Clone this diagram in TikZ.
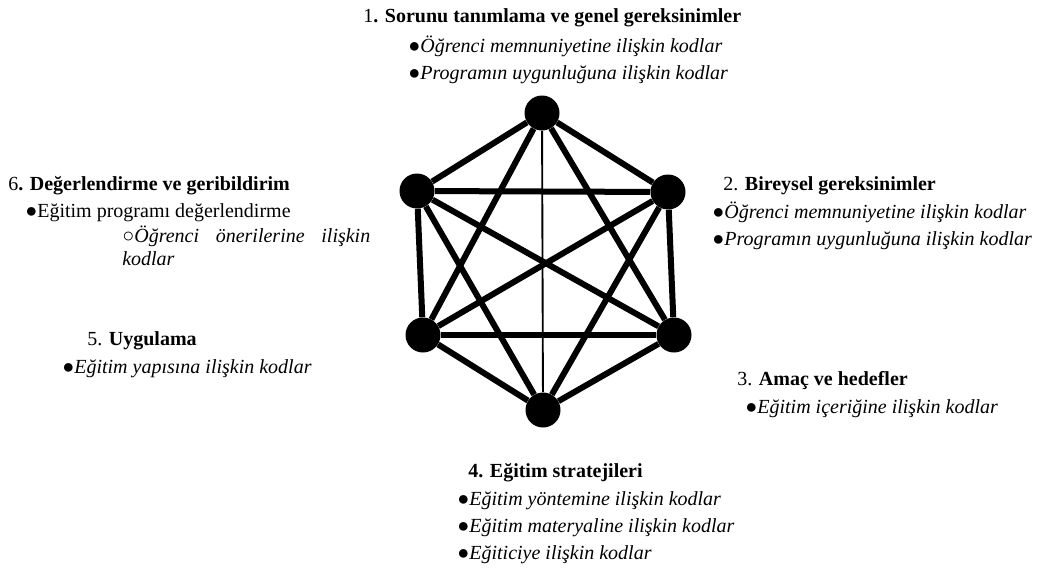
\documentclass[tikz,border=0pt]{standalone}
\usepackage{fontspec}
\setmainfont{Liberation Serif}
\usetikzlibrary{positioning}
\tikzset{vertex/.style = {circle, fill=black, minimum size=26.25pt, inner sep=0pt}}
\tikzset{link/.style = {line width=4.5pt}}
\tikzset{thin link/.style = {line width=1.4pt}}
\tikzset{stage/.style = {anchor=base west, inner sep=0pt, font=\fontsize{15}{20.25}\selectfont}}
\tikzset{codes/.style = {align=left, inner sep=0pt, font=\fontsize{15}{20.25}\selectfont\itshape}}
\tikzset{plain codes/.style = {align=left, inner sep=0pt, font=\fontsize{15}{20.25}\selectfont}}

\begin{document}
\begin{tikzpicture}[x=0.75pt, y=-0.75pt]
      \useasboundingbox (0,0) rectangle (1037,567);

      % hexagon of stages
      \node[vertex] (v1) at (542,113) {};
      \node[vertex] (v2) at (668,192) {};
      \node[vertex] (v3) at (674,335) {};
      \node[vertex] (v4) at (543,410) {};
      \node[vertex] (v5) at (423,335) {};
      \node[vertex] (v6) at (417,191) {};

      \path[link] (v1)
        edge (v2) edge (v3) edge[thin link] (v4) edge (v5) edge (v6);
      \path[link] (v2)
        edge (v3) edge (v4) edge (v5) edge (v6);
      \path[link] (v3)
        edge (v4) edge (v5) edge (v6);
      \path[link] (v4)
        edge (v5) edge (v6);
      \path[link] (v5) edge (v6);

      % stage titles
      \node[stage] (t1) at (363,23) {1\textbf{. Sorunu tanımlama ve genel gereksinimler}};
      \node[stage] (t2) at (723,190) {2. \textbf{Bireysel gereksinimler}};
      \node[stage] (t3) at (737,385) {3. \textbf{Amaç ve hedefler}};
      \node[stage] (t4) at (468,477) {\textbf{4. Eğitim stratejileri}};
      \node[stage] (t5) at (87,345) {5. \textbf{Uygulama}};
      \node[stage] (t6) at (8,190) {6\textbf{. Değerlendirme ve geribildirim}};

      % codes under each title
      \node[codes] (c1) [below right=7.5pt and 33.75pt of t1.base west]
        {\strut{\upshape●}Öğrenci memnuniyetine ilişkin kodlar\\
         {\upshape●}Programın uygunluğuna ilişkin kodlar};
      \node[codes] (c2) [below right=6.8pt and -8.25pt of t2.base west]
        {\strut{\upshape●}Öğrenci memnuniyetine ilişkin kodlar\\
         {\upshape●}Programın uygunluğuna ilişkin kodlar};
      \node[codes] (c3) [below right=6.8pt and 6pt of t3.base west]
        {\strut{\upshape●}Eğitim içeriğine ilişkin kodlar};
      \node[codes] (c4) [below right=6.8pt and -8.25pt of t4.base west]
        {\strut{\upshape●}Eğitim yöntemine ilişkin kodlar\\
         {\upshape●}Eğitim materyaline ilişkin kodlar\\
         {\upshape●}Eğiticiye ilişkin kodlar};
      \node[codes] (c5) [below right=6.8pt and -18.75pt of t5.base west]
        {\strut{\upshape●}Eğitim yapısına ilişkin kodlar};
      \node[plain codes] (c6) [below right=6.1pt and 12.75pt of t6.base west]
        {\strut●Eğitim programı değerlendirme};
      \node[codes, text width=186pt, align=justify,
        font=\fontsize{15}{17.25}\selectfont\itshape]
        (s6) [below right=20.7pt and 72.75pt of c6.north west]
        {\strut{\upshape○}Öğrenci önerilerine ilişkin\linebreak kodlar};
\end{tikzpicture}
\end{document}
